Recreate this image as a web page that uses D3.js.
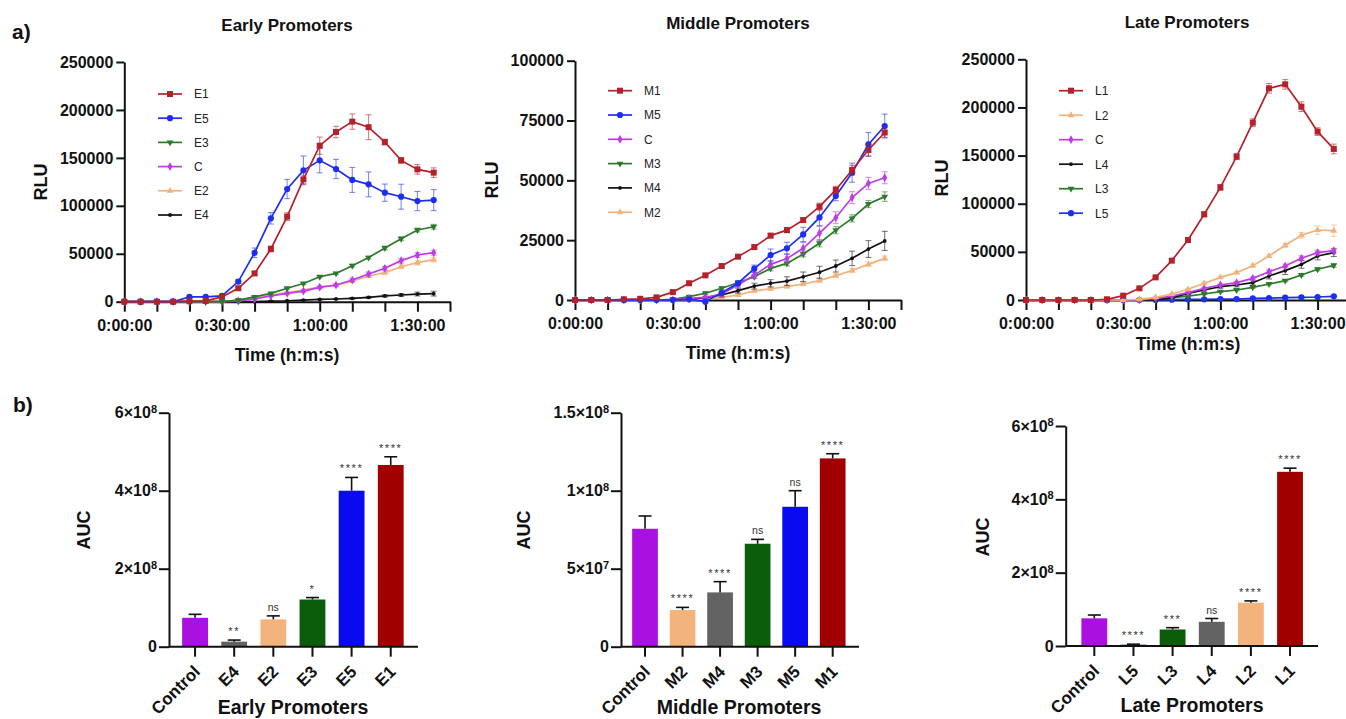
<!DOCTYPE html>
<html><head><meta charset="utf-8">
<script src="https://cdn.jsdelivr.net/npm/d3@7"></script>
<style>body{margin:0;background:#fff;} svg{display:block;font-family:"Liberation Sans",Arial,sans-serif;}</style>
</head><body><svg id="c" width="1346" height="719"></svg>
<script>
// ---------- DATA ----------
const timeMin = [0,5,10,15,20,25,30,35,40,45,50,55,60,65,70,75,80,85,90,95];
const timeMinorTicks = [0,10,20,30,40,50,60,70,80,90,100];
const timeTickVals = [0,30,60,90];
const timeTickLabels = ["0:00:00","0:30:00","1:00:00","1:30:00"];

// Early promoters (RLU)
const E1 = [0,0,0,0,500,800,5000,14000,29500,55000,88700,127600,162700,177000,187800,182000,166500,147400,138000,134600];
const E1err = [0,0,0,0,200,300,800,1200,2000,3000,4000,4500,9000,6000,8000,13000,3000,3000,5000,5000];
const E5 = [0,0,0,0,5000,5000,6000,21000,51000,87000,117500,137000,147400,138400,127000,122400,113700,109500,105000,106000];
const E5err = [0,0,0,0,500,500,800,2000,5000,6000,10000,15000,13000,10000,13000,13000,9000,13000,10000,11000];
const E3 = [0,0,0,0,0,0,0,1700,5000,8700,14000,19000,26000,29500,37500,46000,56000,65700,74800,78200];
const E3err = [0,0,0,0,0,0,0,500,500,600,800,1000,1000,1200,1500,1500,2000,2000,2000,2500];
const EC = [0,0,0,0,0,0,0,700,2800,6000,8700,11000,15000,17400,22600,28900,34800,42800,48700,51100];
const ECerr = [0,0,0,0,0,0,0,300,500,600,800,1000,1000,1200,1500,2000,2000,2500,2500,2500];
const E2 = [0,0,0,0,0,0,0,1700,3500,7000,9400,12000,15600,17000,21500,26800,30300,36500,40700,43800];
const E2err = [0,0,0,0,0,0,0,300,500,600,800,1000,1000,1200,1500,1500,2000,2000,2500,2500];
const E4 = [0,0,0,0,0,0,0,0,0,700,1000,1700,2400,2800,3500,4500,6000,7000,8000,8400];
const E4err = [0,0,0,0,0,0,0,0,0,200,300,400,500,600,800,1000,1200,1500,2000,2500];

// Middle promoters (RLU)
const M1 = [0,0,0,300,500,1100,3300,7000,10300,14200,18100,22100,26900,29200,33400,39000,46000,54300,62700,70000];
const M1err = [0,0,0,100,100,200,300,400,500,600,700,800,900,1000,1000,1500,1500,2000,2500,2000];
const M5 = [0,0,0,0,0,0,0,300,-700,3000,7000,13100,18800,21600,27400,34500,43500,53200,65000,72700];
const M5err = [0,0,0,0,0,0,0,200,500,800,1000,1500,2500,2500,3000,3500,2000,4000,5000,5000];
const MC = [0,0,0,0,0,0,0,700,1100,2500,6300,10400,14900,17300,21600,27900,34400,42800,48700,51100];
const MCerr = [0,0,0,0,0,0,0,300,500,800,1000,1200,1500,2000,2500,3000,2500,2500,2500,2500];
const M3 = [0,0,0,0,0,0,300,1400,2800,4900,7200,9700,13200,15300,19200,23700,29200,34100,40100,43200];
const M3err = [0,0,0,0,0,0,200,300,500,600,700,800,1000,1000,1200,1500,1500,1500,1500,2000];
const M4 = [0,0,0,0,0,0,0,300,1000,2100,3900,5800,7000,7900,9700,11600,14200,17400,21300,24700];
const M4err = [0,0,0,0,0,0,0,300,500,800,1000,1200,1500,1800,2000,2500,2500,3000,3500,4000];
const M2 = [0,0,0,0,0,0,0,0,300,1100,2100,3800,4700,5600,6700,8100,10200,12300,14900,17400];
const M2err = [0,0,0,0,0,0,0,0,100,200,300,400,500,500,600,700,800,900,1000,1000];

// Late promoters (RLU)
const L1 = [0,0,0,0,0,700,4500,12100,23500,40900,62300,89000,117000,148900,184200,219900,224000,200800,174900,156900];
const L1err = [0,0,0,0,0,200,500,800,1000,1500,2000,2500,3000,3000,4000,5000,5000,5000,4000,5000];
const L2 = [0,0,0,0,0,0,0,700,2800,6200,11100,17300,23500,28400,35700,45700,56800,67200,72700,72000];
const L2err = [0,0,0,0,0,0,0,300,500,600,800,1000,1000,1200,1500,1500,2000,3000,4500,6000];
const LC = [0,0,0,0,0,0,0,0,1700,4100,7600,12100,15600,18000,22500,29400,35300,43300,49200,51200];
const LCerr = [0,0,0,0,0,0,0,0,500,600,800,1000,1000,1200,1500,2000,2000,2500,2500,2500];
const L4 = [0,0,0,0,0,0,0,0,0,2400,6900,10400,13800,15600,18000,24900,30500,37000,45700,49200];
const L4err = [0,0,0,0,0,0,0,0,0,500,1000,1000,1500,2000,2500,3000,4000,4000,4000,4000];
const L3 = [0,0,0,0,0,0,0,0,0,2400,4100,6200,8700,10400,13200,16600,20100,26000,31900,36000];
const L3err = [0,0,0,0,0,0,0,0,0,300,500,600,800,800,1000,1000,1200,1500,1500,2000];
const L5 = [0,0,0,0,0,0,0,0,0,300,700,700,1000,1000,1700,2000,2400,2800,3100,3800];
const L5err = [0,0,0,0,0,0,0,0,0,100,100,200,200,200,300,300,400,400,500,500];

const earlyYTicks = [0,50000,100000,150000,200000,250000];
const middleYTicks = [0,25000,50000,75000,100000];
const lateYTicks = [0,50000,100000,150000,200000,250000];

// AUC bar data
const earlyCats = ["Control","E4","E2","E3","E5","E1"];
const earlyAUC = [0.74e8,0.13e8,0.70e8,1.21e8,4.00e8,4.66e8];
const earlyAUCerr = [0.09e8,0.04e8,0.09e8,0.05e8,0.34e8,0.21e8];
const earlySig = ["","**","ns","*","****","****"];

const middleCats = ["Control","M2","M4","M3","M5","M1"];
const middleAUC = [75.6e6,23.5e6,34.8e6,66.0e6,89.7e6,120.7e6];
const middleAUCerr = [8.2e6,1.7e6,6.9e6,2.8e6,10.3e6,3.0e6];
const middleSig = ["","****","****","ns","ns","****"];

const lateCats = ["Control","L5","L3","L4","L2","L1"];
const lateAUC = [0.755e8,0.036e8,0.45e8,0.66e8,1.18e8,4.75e8];
const lateAUCerr = [0.09e8,0.014e8,0.05e8,0.09e8,0.05e8,0.10e8];
const lateSig = ["","****","***","ns","****","****"];

const aucTicks68 = [0,2e8,4e8,6e8];
const aucTickLabels68 = ["0","2×10^8","4×10^8","6×10^8"];
const aucTicksMid = [0,5e7,1e8,1.5e8];
const aucTickLabelsMid = ["0","5×10^7","1×10^8","1.5×10^8"];

// ---------- STYLE ----------
const lineColor = {"1":"#b3222a","2":"#f3b27c","3":"#2b7a2b","4":"#111111","5":"#1d2ef2","C":"#bd3ce8"};
const barColor  = {"1":"#a00000","2":"#f2b47c","3":"#0b5c0b","4":"#636363","5":"#0a0af2","C":"#aa10e0"};
const markerType = {"1":"square","2":"triUp","3":"triDown","4":"dot","5":"circle","C":"diamond"};
const key = n => (n === "C" || n === "Control") ? "C" : n.slice(-1);

const svg = d3.select("#c");
const FONT = '"Liberation Sans", Arial, sans-serif';

function styleAxis(g, fs) {
  g.attr("font-family", FONT).attr("font-size", fs).attr("font-weight", "bold");
  g.selectAll("path.domain").attr("stroke", "#111").attr("stroke-width", 2);
  g.selectAll(".tick line").attr("stroke", "#111").attr("stroke-width", 2);
  g.selectAll(".tick text").attr("fill", "#111");
}

function marker(g, type, cx, cy, color) {
  if (type === "square") {
    g.append("rect").attr("x", cx-3).attr("y", cy-3).attr("width", 6).attr("height", 6).attr("fill", color);
  } else if (type === "circle") {
    g.append("circle").attr("cx", cx).attr("cy", cy).attr("r", 3.1).attr("fill", color);
  } else if (type === "dot") {
    g.append("circle").attr("cx", cx).attr("cy", cy).attr("r", 1.9).attr("fill", color);
  } else {
    let sym = type === "diamond" ? d3.symbolDiamond : d3.symbolTriangle;
    let size = type === "diamond" ? 22 : 20;
    g.append("path").attr("d", d3.symbol().type(sym).size(size)())
      .attr("transform", `translate(${cx},${cy})` + (type === "triDown" ? " rotate(180)" : ""))
      .attr("fill", color);
  }
}

function linePanel(p) {
  const x = d3.scaleLinear().domain([0,100]).range([p.x0, p.x100]);
  const y = d3.scaleLinear().domain([0,p.yMax]).range([p.y0, p.yTop]);
  const labelOf = m => { const i = timeTickVals.indexOf(m); return i >= 0 ? timeTickLabels[i] : ""; };
  const gx = svg.append("g").attr("transform", `translate(0,${p.y0})`)
    .call(d3.axisBottom(x).tickValues(timeMinorTicks).tickSize(10).tickPadding(8).tickSizeOuter(0).tickFormat(labelOf));
  styleAxis(gx, 16);
  const gy = svg.append("g").attr("transform", `translate(${p.x0},0)`)
    .call(d3.axisLeft(y).tickValues(p.yTicks).tickSize(8).tickPadding(3).tickSizeOuter(0).tickFormat(d3.format("d")));
  styleAxis(gy, 16);

  const plot = svg.append("g");
  const series = p.series.slice().reverse();
  series.forEach(s => {
    const c = lineColor[key(s.name)];
    const g = plot.append("g");
    s.vals.forEach((v, i) => {
      const e = s.errs[i];
      if (e > 0) {
        const cx = x(timeMin[i]);
        g.append("line").attr("x1", cx).attr("x2", cx).attr("y1", y(v-e)).attr("y2", y(v+e))
          .attr("stroke", c).attr("stroke-opacity", 0.55).attr("stroke-width", 1.1);
        [v-e, v+e].forEach(w => g.append("line").attr("x1", cx-3).attr("x2", cx+3).attr("y1", y(w)).attr("y2", y(w))
          .attr("stroke", c).attr("stroke-opacity", 0.55).attr("stroke-width", 1.1));
      }
    });
    g.append("path").datum(s.vals)
      .attr("d", d3.line().x((d,i) => x(timeMin[i])).y(d => y(d)))
      .attr("fill", "none").attr("stroke", c).attr("stroke-width", 1.7);
    s.vals.forEach((v,i) => marker(g, markerType[key(s.name)], x(timeMin[i]), y(v), c));
  });

  p.series.forEach((s, i) => {
    const c = lineColor[key(s.name)];
    const ly = p.legY + i * p.legStep;
    svg.append("line").attr("x1", p.legX).attr("x2", p.legX + 24).attr("y1", ly).attr("y2", ly)
      .attr("stroke", c).attr("stroke-width", 1.7);
    marker(svg, markerType[key(s.name)], p.legX + 12, ly, c);
    svg.append("text").attr("x", p.legX + 36).attr("y", ly).attr("dy", "0.36em")
      .attr("font-family", FONT).attr("font-size", 12).attr("fill", "#222").text(s.name);
  });

  svg.append("text").attr("x", p.titleX).attr("y", p.titleY).attr("text-anchor", "middle")
    .attr("font-family", FONT).attr("font-size", 17).attr("font-weight", "bold").attr("fill", "#111").text(p.title);
  svg.append("text").attr("transform", `translate(${p.rluX},${p.rluY}) rotate(-90)`).attr("text-anchor", "middle")
    .attr("font-family", FONT).attr("font-size", 18).attr("font-weight", "bold").attr("fill", "#111").text("RLU");
  svg.append("text").attr("x", p.timeX).attr("y", p.timeY).attr("text-anchor", "middle")
    .attr("font-family", FONT).attr("font-size", 17.5).attr("font-weight", "bold").attr("fill", "#111").text("Time (h:m:s)");
}

function barPanel(p) {
  const y = d3.scaleLinear().domain([0, p.yMax]).range([p.y0, p.yTop]);
  const xb = d3.scaleBand().domain(p.cats).range(p.band).paddingInner(p.pad).paddingOuter(p.pad/2);
  p.cats.forEach((c, i) => {
    const v = p.vals[i], e = p.errs[i];
    const cx = xb(c) + xb.bandwidth()/2;
    svg.append("rect").attr("x", xb(c)).attr("width", xb.bandwidth())
      .attr("y", y(v)).attr("height", y(0) - y(v)).attr("fill", barColor[key(c)]);
    svg.append("line").attr("x1", cx).attr("x2", cx).attr("y1", y(v)).attr("y2", y(v+e))
      .attr("stroke", "#111").attr("stroke-width", 1.6);
    svg.append("line").attr("x1", cx-6.5).attr("x2", cx+6.5).attr("y1", y(v+e)).attr("y2", y(v+e))
      .attr("stroke", "#111").attr("stroke-width", 1.6);
    if (p.sig[i]) {
      svg.append("text").attr("x", cx).attr("y", y(v+e) - 5).attr("text-anchor", "middle")
        .attr("font-family", FONT).attr("font-size", p.sig[i] === "ns" ? 10.5 : 11)
        .attr("letter-spacing", p.sig[i] === "ns" ? 0 : 1.6)
        .attr("fill", "#333").text(p.sig[i]);
    }
  });
  const gx = svg.append("g").attr("transform", `translate(0,${p.y0})`)
    .call(d3.axisBottom(xb).tickSize(10).tickSizeOuter(0));
  gx.select("path.domain").remove();
  gx.append("line").attr("x1", p.yAxisX).attr("x2", p.axEnd).attr("y1", 0).attr("y2", 0);
  styleAxis(gx, 17);
  gx.selectAll("line").attr("stroke", "#111").attr("stroke-width", 2);
  gx.selectAll(".tick text").attr("x", 0).attr("y", 0).attr("dy", 0)
    .attr("transform", "translate(6,26) rotate(-45)").attr("text-anchor", "end");
  const gy = svg.append("g").attr("transform", `translate(${p.yAxisX},0)`)
    .call(d3.axisLeft(y).tickValues(p.ticks).tickSize(10).tickPadding(2).tickSizeOuter(0));
  styleAxis(gy, 16);
  gy.selectAll(".tick text").each(function(d, i) {
    const t = d3.select(this); const lab = p.tickLabels[i];
    t.text(null);
    const parts = lab.split("^");
    t.append("tspan").text(parts[0]);
    if (parts[1]) t.append("tspan").attr("dy", "-0.5em").attr("font-size", 11).text(parts[1]);
  });
  svg.append("text").attr("transform", `translate(${p.aucX},${p.aucY}) rotate(-90)`).attr("text-anchor", "middle")
    .attr("font-family", FONT).attr("font-size", 18).attr("font-weight", "bold").attr("fill", "#111").text("AUC");
  svg.append("text").attr("x", p.titleX).attr("y", p.titleY).attr("text-anchor", "middle")
    .attr("font-family", FONT).attr("font-size", 19.5).attr("font-weight", "bold").attr("fill", "#111").text(p.title);
}

// ---------- PANELS ----------
linePanel({x0:124.3, x100:450, y0:301.7, yTop:62, yMax:250000, yTicks:earlyYTicks,
  title:"Early Promoters", titleX:287, titleY:31, rluX:47, rluY:182, timeX:287, timeY:361,
  legX:158, legY:94, legStep:24.2,
  series:[{name:"E1",vals:E1,errs:E1err},{name:"E5",vals:E5,errs:E5err},{name:"E3",vals:E3,errs:E3err},
          {name:"C",vals:EC,errs:ECerr},{name:"E2",vals:E2,errs:E2err},{name:"E4",vals:E4,errs:E4err}]});
linePanel({x0:575, x100:901, y0:300, yTop:60.7, yMax:100000, yTicks:middleYTicks,
  title:"Middle Promoters", titleX:738, titleY:29, rluX:498, rluY:180, timeX:738, timeY:359,
  legX:608, legY:90.7, legStep:24.3,
  series:[{name:"M1",vals:M1,errs:M1err},{name:"M5",vals:M5,errs:M5err},{name:"C",vals:MC,errs:MCerr},
          {name:"M3",vals:M3,errs:M3err},{name:"M4",vals:M4,errs:M4err},{name:"M2",vals:M2,errs:M2err}]});
linePanel({x0:1026, x100:1350, y0:300, yTop:59.3, yMax:250000, yTicks:lateYTicks,
  title:"Late Promoters", titleX:1187, titleY:28, rluX:948, rluY:178, timeX:1188, timeY:350,
  legX:1059, legY:90.7, legStep:24.5,
  series:[{name:"L1",vals:L1,errs:L1err},{name:"L2",vals:L2,errs:L2err},{name:"C",vals:LC,errs:LCerr},
          {name:"L4",vals:L4,errs:L4err},{name:"L3",vals:L3,errs:L3err},{name:"L5",vals:L5,errs:L5err}]});

barPanel({y0:646.7, yTop:412.7, yMax:6e8, ticks:aucTicks68, tickLabels:aucTickLabels68, yAxisX:169,
  band:[175.5,410.3], pad:0.34, axEnd:418, cats:earlyCats, vals:earlyAUC, errs:earlyAUCerr, sig:earlySig,
  aucX:90, aucY:530, title:"Early Promoters", titleX:293, titleY:714});
barPanel({y0:646.7, yTop:412.7, yMax:1.5e8, ticks:aucTicksMid, tickLabels:aucTickLabelsMid, yAxisX:621,
  band:[626.25,851.45], pad:0.315, axEnd:859, cats:middleCats, vals:middleAUC, errs:middleAUCerr, sig:middleSig,
  aucX:530, aucY:530, title:"Middle Promoters", titleX:739, titleY:714});
barPanel({y0:646, yTop:426, yMax:6e8, ticks:aucTicks68, tickLabels:aucTickLabels68, yAxisX:1065.7,
  band:[1074.75,1309.6], pad:0.34, axEnd:1318, cats:lateCats, vals:lateAUC, errs:lateAUCerr, sig:lateSig,
  aucX:989, aucY:537, title:"Late Promoters", titleX:1192, titleY:712});

svg.append("text").attr("x", 12).attr("y", 39).attr("font-family", FONT).attr("font-size", 21)
  .attr("font-weight", "bold").attr("fill", "#111").text("a)");
svg.append("text").attr("x", 13).attr("y", 412).attr("font-family", FONT).attr("font-size", 21)
  .attr("font-weight", "bold").attr("fill", "#111").text("b)");
</script></body></html>
